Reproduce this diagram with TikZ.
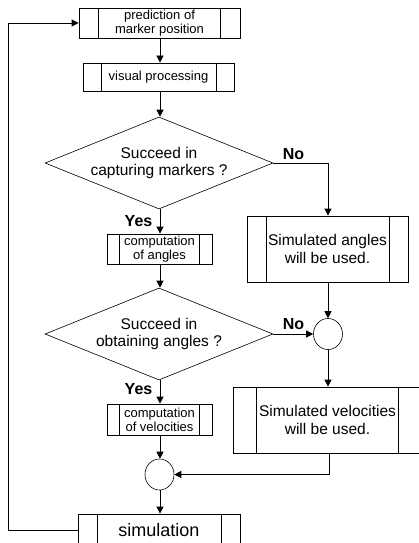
\documentclass[tikz,border=0pt]{standalone}
\usepackage{fontspec}
\setmainfont{Liberation Sans}
\usetikzlibrary{shapes.geometric,arrows.meta}
\tikzset{
  proc/.style={draw, rectangle, inner sep=0pt, align=center, line width=0.8pt,
    path picture={
      \draw[line width=0.8pt] ([xshift=#1]path picture bounding box.north west) -- ([xshift=#1]path picture bounding box.south west);
      \draw[line width=0.8pt] ([xshift=-#1]path picture bounding box.north east) -- ([xshift=-#1]path picture bounding box.south east);
    }},
  dec/.style={draw, diamond, inner sep=0pt, minimum width=228pt, minimum height=92pt, line width=0.6pt},
  junc/.style={draw, ellipse, inner sep=0pt, minimum width=29pt, minimum height=31pt, line width=0.6pt},
  small/.style={font=\fontsize{13}{14}\selectfont},
  big/.style={font=\fontsize{15.5}{17.5}\selectfont},
  lab/.style={inner sep=0pt, font=\fontsize{16}{18}\selectfont\bfseries},
  txt/.style={inner sep=0pt, align=center},
  conn/.style={line width=0.8pt, -{Triangle[length=7pt,width=7pt]}},
  line/.style={line width=0.8pt},
}
\begin{document}
\begin{tikzpicture}[x=1pt,y=-1pt]
\useasboundingbox (0,0) rectangle (419,543);
% process boxes
\node[proc=19.5pt, small, minimum width=161pt, minimum height=30pt] (b1) at (159.5,23) {prediction of\\marker position};
\node[proc=18pt, small, minimum width=151pt, minimum height=28pt] (b2) at (158.5,77) {visual processing};
\node[dec] (d1) at (159,163) {};
\node[txt, big] (d1t) at (159,163) {Succeed in\\capturing markers ?};
\node[proc=12.5pt, small, minimum width=105pt, minimum height=30pt] (ang) at (159.5,249) {computation\\of angles};
\node[proc=19pt, big, minimum width=161pt, minimum height=66pt] (sang) at (327.5,249) {Simulated angles\\will be used.};
\node[dec] (d2) at (159,334) {};
\node[txt, big] (d2t) at (159,334) {Succeed in\\obtaining angles ?};
\node[junc] (c1) at (328,334) {};
\node[proc=23.3pt, big, minimum width=189pt, minimum height=66pt] (svel) at (327.5,420) {Simulated velocities\\will be used.};
\node[proc=12.5pt, small, minimum width=105pt, minimum height=31pt] (vel) at (159.5,419.5) {computation\\of velocities};
\node[junc] (c2) at (159.5,474.5) {};
\node[proc=19pt, font=\fontsize{18}{20}\selectfont, minimum width=162pt, minimum height=32pt] (sim) at (159,530) {simulation};
% labels
\node[lab] (no1) at (293.5,154) {No};
\node[lab] (no2) at (293.5,324) {No};
\node[lab] (yes1) at (138.5,221) {Yes};
\node[lab] (yes2) at (138.5,389) {Yes};
% connectors
\coordinate (fbx) at (8.5,0);
\draw[conn] (b1.south -| 160,0) -- (b2.north -| 160,0);
\draw[conn] (b2.south -| 160,0) -- (d1.north -| 160,0);
\draw[conn] (d1.south -| 160,0) -- (ang.north -| 160,0);
\draw[conn] (d1.east) -| (sang.north -| c1.north);
\draw[conn] (ang.south -| 160,0) -- (d2.north -| 160,0);
\draw[conn] (sang.south -| c1.north) -- (c1.north);
\draw[conn] (d2.east) -- (c1.west);
\draw[conn] (c1.south) -- (svel.north -| c1.south);
\draw[conn] (d2.south -| 160,0) -- (vel.north -| 160,0);
\draw[conn] (vel.south -| 160,0) -- (c2.north -| 160,0);
\draw[conn] (svel.south -| 329.5,0) |- (c2.east);
\draw[conn] (c2.south -| 160,0) -- (sim.north -| 160,0);
\draw[conn] (sim.west) -| (fbx |- b1.west) -- (b1.west);
\end{tikzpicture}
\end{document}
